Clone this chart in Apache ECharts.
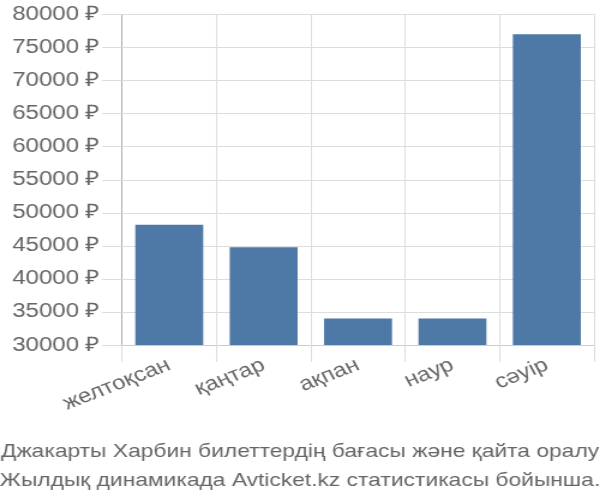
<!DOCTYPE html>
<html><head><meta charset="utf-8">
<script src="https://cdn.jsdelivr.net/npm/echarts@6/dist/echarts.min.js"></script>
<style>
html,body{margin:0;padding:0;background:#fff}
#wrap{width:600px;height:500px;overflow:hidden}
#c{width:500px;height:500px;transform:scaleX(1.2);transform-origin:0 0}
</style>
</head><body><div id="wrap"><div id="c"></div></div>
<script>
const categories = ['желтоқсан', 'қаңтар', 'ақпан', 'наур', 'сәуір'];
const prices = [48200, 44800, 34000, 34000, 77000];
const yMin = 30000, yMax = 80000, yStep = 5000;
const titleLines = ['Джакарты Харбин билеттердің бағасы және қайта оралу', 'Жылдық динамикада Avticket.kz статистикасы бойынша.'];
const FONT = '"Liberation Sans", Arial, sans-serif';
const chart = echarts.init(document.getElementById('c'));
chart.setOption({
  animation: false,
  title: {
    text: titleLines.join('\n'), left: 'center', top: 432,
    textStyle: { fontFamily: FONT, fontSize: 19, fontWeight: 'normal', color: '#666', lineHeight: 29 }
  },
  grid: { left: 101.7, right: 5, top: 14.5, bottom: 155 },
  xAxis: {
    type: 'category', data: categories,
    axisLine: { show: true, lineStyle: { color: '#ccc' } },
    axisTick: { show: true, length: 17, lineStyle: { color: '#ddd' } },
    splitLine: { show: true, lineStyle: { color: '#ddd' } },
    axisLabel: { rotate: 25, margin: 19, fontFamily: FONT, fontSize: 20, color: '#666' }
  },
  yAxis: {
    type: 'value', min: yMin, max: yMax, interval: yStep,
    axisLine: { show: true, lineStyle: { color: '#aaa' } },
    axisTick: { show: true, length: 16.7, lineStyle: { color: '#ddd' } },
    splitLine: { show: true, lineStyle: { color: '#ddd' } },
    axisLabel: { margin: 18.3, fontFamily: FONT, fontSize: 20, color: '#666', formatter: v => v + ' ₽' }
  },
  series: [{
    type: 'bar', data: prices, barCategoryGap: '28%',
    itemStyle: { color: '#4e79a7' }
  }]
});
</script></body></html>
